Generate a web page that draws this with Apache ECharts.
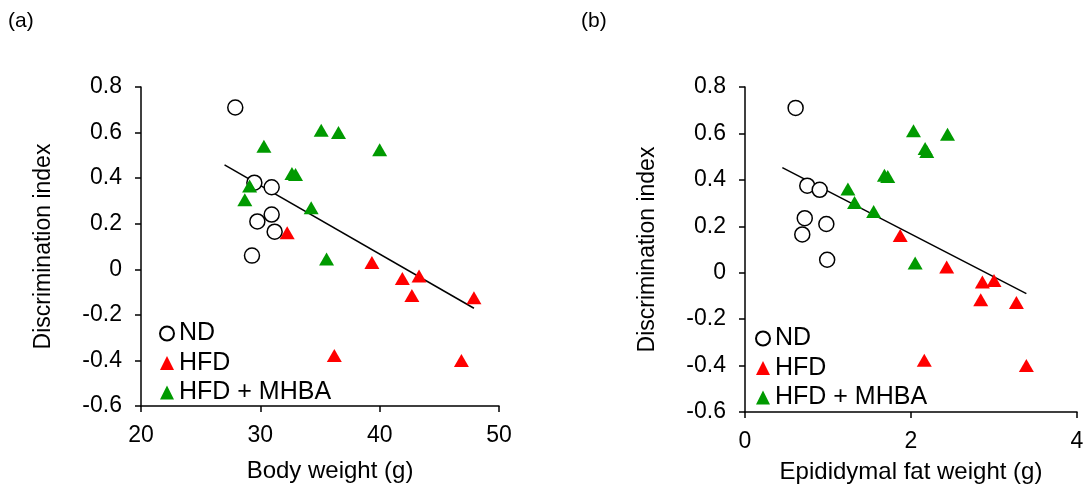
<!DOCTYPE html>
<html lang="en">
<head>
    <meta charset="UTF-8">
    <title>Discrimination index vs body / fat weight</title>
    <script src="https://cdn.jsdelivr.net/npm/echarts@6/dist/echarts.min.js"></script>
    <style>
        body { margin: 0; background: #fff; }
        #chart { width: 1087px; height: 494px; }
    </style>
</head>
<body>
    <div id="chart"></div>

    <script>
        // panel (a): body weight (g) vs discrimination index
        const bwND = [[27.9, 0.71], [29.5, 0.38], [30.95, 0.36], [29.75, 0.21], [30.95, 0.24], [31.2, 0.165], [29.3, 0.06]];
        const bwHFD = [[32.25, 0.16], [39.35, 0.03], [41.9, -0.04], [43.3, -0.03], [42.7, -0.115], [47.9, -0.125], [36.2, -0.378], [46.85, -0.40]];
        const bwMHBA = [[35.1, 0.61], [36.55, 0.6], [40.0, 0.525], [30.3, 0.54], [32.65, 0.42], [32.95, 0.416], [29.1, 0.365], [28.7, 0.305], [34.26, 0.27], [35.55, 0.045]];
        const bwFit = [[27.0, 0.458], [47.9, -0.171]];

        // panel (b): epididymal fat weight (g) vs discrimination index
        const fatND = [[0.61, 0.71], [0.75, 0.375], [0.9, 0.357], [0.72, 0.235], [0.69, 0.165], [0.98, 0.21], [0.99, 0.056]];
        const fatHFD = [[1.87, 0.16], [2.43, 0.025], [2.86, -0.04], [3.0, -0.033], [2.84, -0.116], [3.27, -0.128], [2.16, -0.377], [3.39, -0.40]];
        const fatMHBA = [[2.03, 0.612], [2.44, 0.597], [2.19, 0.522], [2.17, 0.535], [1.68, 0.42], [1.72, 0.415], [1.24, 0.361], [1.32, 0.302], [1.55, 0.264], [2.05, 0.042]];
        const fatFit = [[0.45, 0.453], [3.39, -0.09]];

        const groupNames = ['ND', 'HFD', 'HFD + MHBA'];
        const yTicks = { min: -0.6, max: 0.8, interval: 0.2 };

        const font = 'Liberation Sans, Arial, sans-serif';
        const chart = echarts.init(document.getElementById('chart'));

        function yAxisFor(gridIndex) {
            return {
                type: 'value',
                gridIndex: gridIndex,
                min: yTicks.min,
                max: yTicks.max,
                interval: yTicks.interval,
                name: 'Discrimination index',
                nameLocation: 'middle',
                nameGap: 86,
                nameTextStyle: { color: '#000', fontSize: 23, fontFamily: font },
                axisLine: { show: true, lineStyle: { color: '#000', width: 1.5 } },
                axisTick: { show: true, length: 6, lineStyle: { color: '#000', width: 1.5 } },
                axisLabel: {
                    color: '#000', fontSize: 23, fontFamily: font, margin: 19,
                    formatter: v => String(+v.toFixed(1))
                },
                splitLine: { show: false }
            };
        }

        function xAxisFor(gridIndex, name, min, max, interval, gap, pad) {
            return {
                type: 'value',
                gridIndex: gridIndex,
                min: min,
                max: max,
                interval: interval,
                name: name,
                nameLocation: 'middle',
                nameGap: gap,
                nameTextStyle: { color: '#000', fontSize: 24, fontFamily: font, padding: pad },
                axisLine: { show: true, onZero: false, lineStyle: { color: '#000', width: 1.5 } },
                axisTick: { show: true, length: 6, lineStyle: { color: '#000', width: 1.5 } },
                axisLabel: { color: '#000', fontSize: 23, fontFamily: font, margin: 18 },
                splitLine: { show: false }
            };
        }

        function groupSeries(axisIndex, nd, hfd, mhba, fit) {
            return [
                {
                    name: 'ND', type: 'scatter', xAxisIndex: axisIndex, yAxisIndex: axisIndex,
                    data: nd, symbol: 'circle', symbolSize: 15,
                    itemStyle: { color: '#fff', borderColor: '#000', borderWidth: 1.5, opacity: 1 }
                },
                {
                    name: 'HFD', type: 'scatter', xAxisIndex: axisIndex, yAxisIndex: axisIndex,
                    data: hfd, symbol: 'triangle', symbolSize: [15, 13],
                    itemStyle: { color: '#ff0000', opacity: 1 }
                },
                {
                    name: 'HFD + MHBA', type: 'scatter', xAxisIndex: axisIndex, yAxisIndex: axisIndex,
                    data: mhba, symbol: 'triangle', symbolSize: [15, 13],
                    itemStyle: { color: '#009a00', opacity: 1 }
                },
                {
                    name: 'fit', type: 'line', xAxisIndex: axisIndex, yAxisIndex: axisIndex,
                    data: fit, showSymbol: false, silent: true, z: 1,
                    lineStyle: { color: '#000', width: 1.5 }
                }
            ];
        }

        function legendAt(left, top) {
            return {
                data: groupNames,
                orient: 'vertical',
                left: left,
                top: top,
                padding: 0,
                itemWidth: 14,
                itemHeight: 14,
                itemGap: 4.5,
                selectedMode: false,
                textStyle: { color: '#000', fontSize: 25, fontFamily: font, lineHeight: 24 }
            };
        }

        chart.setOption({
            animation: false,
            title: [
                { text: '(a)', left: 8, top: 11, padding: 0, textStyle: { color: '#000', fontSize: 21, fontWeight: 'normal', fontFamily: font } },
                { text: '(b)', left: 581, top: 11, padding: 0, textStyle: { color: '#000', fontSize: 21, fontWeight: 'normal', fontFamily: font } }
            ],
            legend: [legendAt(159, 321), legendAt(755, 326)],
            grid: [
                { left: 141, top: 87, width: 358, height: 319 },
                { left: 745, top: 87, width: 332, height: 325 }
            ],
            xAxis: [
                xAxisFor(0, 'Body weight (g)', 20, 50, 10, 53, [0, 0, 0, 20]),
                xAxisFor(1, 'Epididymal fat weight (g)', 0, 4, 2, 48, 0)
            ],
            yAxis: [yAxisFor(0), yAxisFor(1)],
            series: [
                ...groupSeries(0, bwND, bwHFD, bwMHBA, bwFit),
                ...groupSeries(1, fatND, fatHFD, fatMHBA, fatFit)
            ]
        });
    </script>
</body>
</html>
